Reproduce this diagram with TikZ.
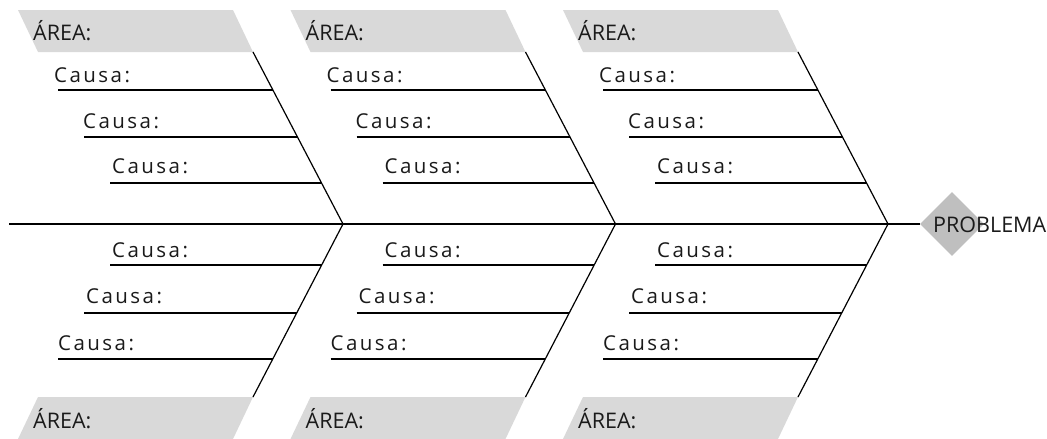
\documentclass[tikz,border=0pt]{standalone}
\usepackage{fontspec}
\setmainfont{Open Sans}
\newfontfamily\causafont[LetterSpace=12]{Open Sans}
\usetikzlibrary{shapes.geometric}
\definecolor{areagray}{HTML}{D9D9D9}
\definecolor{diagray}{HTML}{BFBFBF}
\definecolor{ink}{HTML}{1A1A1A}
\tikzset{
  bone/.style={draw=black, line width=1.2pt},
  areatxt/.style={anchor=base west, inner sep=0pt, text=ink, font=\fontsize{21.5}{24}\selectfont},
  causatxt/.style={anchor=base west, inner sep=0pt, text=ink, font=\causafont\fontsize{20.5}{22}\selectfont},
  areabox/.style={fill=areagray, draw=none},
  probbox/.style={diamond, fill=diagray, draw=none, minimum width=64pt, minimum height=64pt, inner sep=0pt},
}
\begin{document}
\begin{tikzpicture}[x=1pt,y=-1pt]
\useasboundingbox (0,0) rectangle (1047,439);
% head
\node[probbox] (prob) at (952,224) {};
\node[anchor=base west, inner sep=0pt, text=ink, font=\fontsize{21.5}{24}\selectfont] (probtxt) at (933,232) {PROBLEMA};
\coordinate (tail) at (9,224);
\draw[bone] (tail) -- (prob.west);
\foreach \i in {0,1,2}{
  \pgfmathsetmacro{\d}{272.5*\i}
  % top
  \fill[areabox] (18+\d,10) -- (233+\d,10) -- (253+\d,52) -- (38+\d,52) -- cycle;
  \node[areatxt] (areaT\i) at (33+\d,40) {ÁREA:};
  \coordinate (tipT\i) at (253+\d,52);
  \coordinate (tip\i) at (343+\d,224);
  \draw[bone] (tipT\i) -- (tip\i);
  \coordinate (cTa\i) at (58+\d,90);  \coordinate (bTa\i) at ({253+\d+(90-52)*90/172},90);
  \coordinate (cTb\i) at (84+\d,137); \coordinate (bTb\i) at ({253+\d+(137-52)*90/172},137);
  \coordinate (cTc\i) at (110+\d,183); \coordinate (bTc\i) at ({253+\d+(183-52)*90/172},183);
  \draw[bone] (cTa\i) -- (bTa\i);
  \draw[bone] (cTb\i) -- (bTb\i);
  \draw[bone] (cTc\i) -- (bTc\i);
  \node[causatxt] (causaTa\i) at (54+\d,82) {Causa:};
  \node[causatxt] (causaTb\i) at (83+\d,128) {Causa:};
  \node[causatxt] (causaTc\i) at (112+\d,173) {Causa:};
  % bottom
  \fill[areabox] (38+\d,397) -- (253+\d,397) -- (233+\d,439) -- (18+\d,439) -- cycle;
  \node[areatxt] (areaB\i) at (33+\d,428) {ÁREA:};
  \coordinate (tipB\i) at (253+\d,397);
  \draw[bone] (tip\i) -- (tipB\i);
  \coordinate (cBa\i) at (110+\d,265); \coordinate (bBa\i) at ({253+\d+(397-265)*90/173},265);
  \coordinate (cBb\i) at (84+\d,313);  \coordinate (bBb\i) at ({253+\d+(397-313)*90/173},313);
  \coordinate (cBc\i) at (58+\d,359);  \coordinate (bBc\i) at ({253+\d+(397-359)*90/173},359);
  \draw[bone] (cBa\i) -- (bBa\i);
  \draw[bone] (cBb\i) -- (bBb\i);
  \draw[bone] (cBc\i) -- (bBc\i);
  \node[causatxt] (causaBa\i) at (112+\d,257) {Causa:};
  \node[causatxt] (causaBb\i) at (86+\d,303) {Causa:};
  \node[causatxt] (causaBc\i) at (58+\d,350) {Causa:};
}
\end{tikzpicture}
\end{document}
